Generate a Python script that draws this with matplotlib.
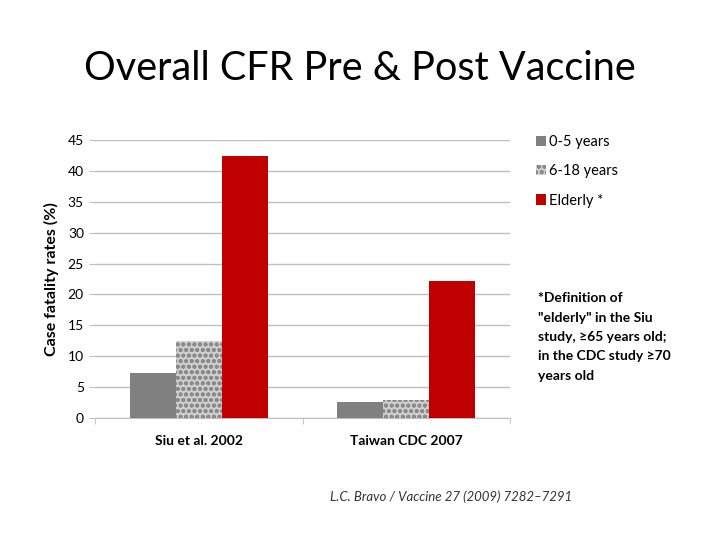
import matplotlib
matplotlib.use("Agg")
import matplotlib.pyplot as plt
import numpy as np

plt.rcParams['font.family'] = ['Lato', 'DejaVu Sans']
plt.rcParams['hatch.linewidth'] = 1.2

categories = ["Siu et al. 2002", "Taiwan CDC 2007"]
series_names = ["0-5 years", "6-18 years", "Elderly *"]
values_0_5 = [7.3, 2.6]
values_6_18 = [12.5, 2.9]
values_elderly = [42.4, 22.2]
yticks = [0, 5, 10, 15, 20, 25, 30, 35, 40, 45]

fig = plt.figure(figsize=(7.2, 5.4), dpi=100)
fig.text(0.5, 1 - 68/540, "Overall CFR Pre & Post Vaccine", ha='center', va='center', fontsize=28.5)

ax = fig.add_axes([95/720, 1 - 418/540, (510 - 95)/720, (418 - 140)/540])
x = np.arange(len(categories))
w = 0.222
ax.bar(x - w, values_0_5, w, color='#808080', label=series_names[0], zorder=3)
ax.bar(x, values_6_18, w, facecolor='#cfcfcf', hatch='ooo', edgecolor='#8a8a8a', linewidth=0,
       label=series_names[1], zorder=3)
ax.bar(x + w, values_elderly, w, color='#c00000', label=series_names[2], zorder=3)

ax.set_xlim(-0.5, 1.5)
ax.set_ylim(0, 45)
ax.set_yticks(yticks)
ax.set_yticklabels([str(t) for t in yticks], fontsize=10)
ax.set_xticks(x)
ax.set_xticklabels(categories, fontsize=10, fontweight='bold')
ax.set_xticks([-0.5, 0.5, 1.5], minor=True)
ax.tick_params(axis='x', which='major', length=0, pad=12)
ax.tick_params(axis='x', which='minor', length=4, color='#bfbfbf')
ax.tick_params(axis='y', length=4, color='#bfbfbf', pad=4)
ax.grid(axis='y', color='#bfbfbf', linewidth=1, zorder=0)
for s in ['top', 'right', 'left']:
    ax.spines[s].set_visible(False)
ax.spines['bottom'].set_color('#bfbfbf')
ax.set_ylabel("Case fatality rates (%)", fontsize=11.5, fontweight='bold', labelpad=6)

leg = ax.legend(loc='upper left', bbox_to_anchor=(536/720, 1 - 135/540), bbox_transform=fig.transFigure,
                frameon=False, fontsize=10.5, handlelength=0.7, handleheight=0.7,
                handletextpad=0.2, labelspacing=1.05, borderaxespad=0, borderpad=0)

fig.text(538/720, 1 - 292/540,
         "*Definition of\n\"elderly\" in the Siu\nstudy, \u226565 years old;\nin the CDC study \u226570\nyears old",
         ha='left', va='top', fontsize=10, fontweight='bold', linespacing=1.75)

fig.text(330/720, 1 - 497/540, "L.C. Bravo / Vaccine 27 (2009) 7282\u20137291",
         ha='left', va='center', fontsize=9.5, style='italic', color='#333333')

fig.savefig("out.png", dpi=100)
